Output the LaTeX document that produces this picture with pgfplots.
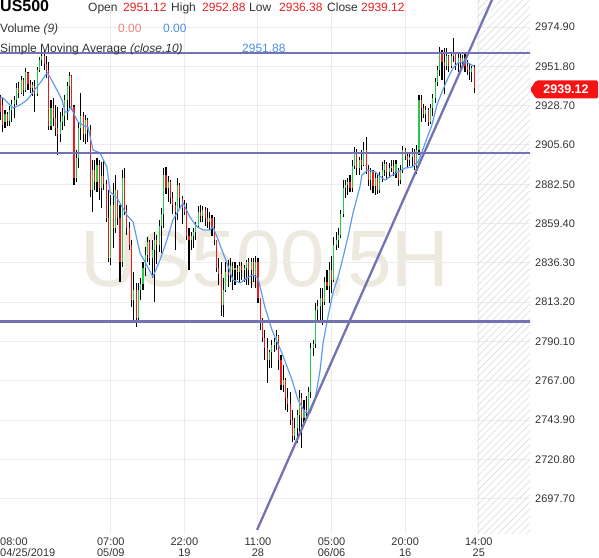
\documentclass[border=0pt]{standalone}
\usepackage{pgfplots}
\pgfplotsset{compat=1.18}
\usepackage{pgfplotstable}
\usepackage{fontspec}
\setmainfont{Liberation Sans}
\usetikzlibrary{patterns.meta}
\definecolor{upg}{RGB}{40,200,75}
\definecolor{dnr}{RGB}{240,25,25}
\definecolor{sma}{RGB}{95,155,240}
\definecolor{lvl}{RGB}{115,115,180}
\definecolor{txt}{RGB}{51,51,51}
\definecolor{wm}{RGB}{238,233,222}
\definecolor{gridc}{RGB}{236,236,236}
\definecolor{valred}{RGB}{235,30,30}
\definecolor{volred}{RGB}{240,130,130}
\definecolor{valblue}{RGB}{74,144,226}
\definecolor{tagred}{RGB}{245,20,20}

\pgfplotstableread{
x o h l c
0 2933.2 2935.0 2920.3 2925.0
1 2929.1 2933.2 2913.2 2917.3
2 2919.1 2926.1 2915.6 2923.8
3 2923.8 2925.0 2916.7 2919.7
4 2919.7 2928.5 2916.7 2926.1
5 2926.1 2932.0 2919.1 2929.7
6 2929.7 2934.4 2921.4 2932.0
7 2932.0 2942.0 2929.1 2939.1
8 2939.1 2942.6 2933.2 2936.1
9 2936.1 2946.1 2935.5 2943.8
10 2943.8 2945.0 2934.4 2937.9
11 2937.9 2950.8 2936.7 2948.5
12 2947.9 2948.5 2937.9 2941.4
13 2941.4 2943.8 2936.1 2939.1
14 2939.1 2942.6 2934.4 2940.8
15 2940.2 2943.8 2925.0 2935.5
16 2935.5 2951.4 2934.4 2949.7
17 2949.7 2957.3 2948.5 2955.5
18 2955.5 2960.2 2952.0 2957.9
19 2957.9 2961.4 2949.7 2953.2
20 2953.2 2957.9 2945.0 2948.5
21 2949.7 2954.4 2914.4 2916.7
22 2916.7 2932.0 2914.4 2927.3
23 2927.3 2933.2 2916.7 2921.4
24 2921.4 2929.1 2910.9 2915.6
25 2915.6 2927.9 2899.7 2912.0
26 2912.0 2925.0 2907.3 2919.1
27 2919.1 2927.3 2914.4 2922.6
28 2922.6 2935.0 2916.7 2932.0
29 2932.0 2942.6 2920.3 2940.2
30 2940.2 2948.5 2927.3 2946.1
31 2946.1 2946.7 2926.1 2928.5
32 2927.9 2929.1 2882.1 2886.2
33 2886.2 2902.6 2883.8 2897.9
34 2897.9 2919.1 2892.0 2915.6
35 2915.6 2936.1 2908.5 2922.6
36 2922.6 2925.0 2907.3 2912.0
37 2912.0 2923.2 2906.2 2920.3
38 2920.3 2921.4 2907.3 2914.4
39 2914.4 2917.3 2875.0 2879.1
40 2879.1 2896.8 2866.2 2890.9
41 2890.9 2896.8 2879.1 2883.8
42 2883.8 2897.9 2877.9 2893.8
43 2893.8 2896.8 2873.2 2880.3
44 2880.3 2895.6 2868.5 2887.3
45 2887.3 2896.8 2879.1 2882.6
46 2882.6 2885.0 2860.3 2862.7
47 2862.7 2879.1 2836.8 2839.2
48 2839.2 2876.2 2835.0 2870.3
49 2870.3 2883.2 2845.0 2856.8
50 2856.8 2887.9 2853.8 2879.1
51 2879.1 2879.1 2858.5 2862.7
52 2862.7 2870.3 2825.0 2836.8
53 2836.8 2890.9 2833.9 2886.2
54 2886.2 2892.0 2864.4 2867.4
55 2867.4 2870.3 2852.7 2856.8
56 2856.8 2860.3 2843.9 2846.8
57 2846.8 2849.7 2810.3 2814.5
58 2814.5 2830.9 2802.7 2820.3
59 2820.3 2824.5 2798.6 2803.9
60 2803.9 2824.5 2802.7 2820.3
61 2820.3 2827.4 2814.5 2823.9
62 2823.9 2836.8 2820.3 2833.3
63 2833.3 2845.6 2828.6 2840.9
64 2840.9 2851.5 2836.8 2848.6
65 2848.6 2849.7 2835.0 2839.2
66 2839.2 2849.7 2827.4 2843.9
67 2843.9 2854.4 2813.3 2849.7
68 2849.7 2852.7 2835.6 2846.8
69 2846.8 2861.5 2842.7 2857.9
70 2857.9 2868.5 2842.1 2865.0
71 2865.0 2892.0 2856.8 2887.9
72 2887.9 2892.6 2876.8 2880.3
73 2880.3 2887.3 2872.1 2883.8
74 2883.8 2885.0 2870.9 2874.4
75 2874.4 2877.9 2865.0 2870.3
76 2870.3 2872.1 2843.9 2866.2
77 2866.2 2886.2 2861.5 2882.1
78 2882.1 2883.2 2868.5 2874.4
79 2874.4 2875.6 2859.1 2868.5
80 2868.5 2873.2 2864.4 2866.2
81 2866.2 2871.5 2849.7 2852.1
82 2852.1 2856.8 2832.1 2849.7
83 2849.7 2854.4 2843.9 2852.1
84 2852.1 2856.8 2845.0 2854.4
85 2854.4 2860.3 2849.7 2857.9
86 2857.9 2869.7 2856.8 2866.2
87 2866.2 2870.3 2860.3 2863.8
88 2863.8 2869.7 2860.3 2867.4
89 2867.4 2869.1 2857.9 2862.7
90 2862.7 2868.5 2856.8 2860.3
91 2860.3 2866.2 2855.6 2862.7
92 2862.7 2864.4 2852.1 2856.8
93 2856.8 2863.2 2846.8 2849.7
94 2849.7 2849.7 2830.9 2833.3
95 2833.3 2839.2 2823.3 2829.7
96 2829.7 2836.8 2805.1 2811.5
97 2811.5 2827.4 2804.5 2820.3
98 2820.3 2836.8 2819.2 2830.9
99 2830.9 2838.0 2822.1 2829.2
100 2829.2 2839.2 2825.0 2834.4
101 2834.4 2836.8 2820.3 2832.1
102 2832.1 2836.8 2823.3 2833.3
103 2833.3 2835.0 2826.2 2830.9
104 2830.9 2836.8 2825.0 2834.4
105 2834.4 2836.8 2826.2 2832.1
106 2832.1 2835.0 2825.0 2833.3
107 2833.3 2838.0 2823.3 2836.8
108 2836.8 2839.2 2823.3 2832.1
109 2832.1 2839.2 2821.5 2836.8
110 2836.8 2839.2 2825.0 2829.2
111 2829.2 2840.3 2821.5 2836.8
112 2836.8 2839.2 2812.7 2815.6
113 2815.6 2815.6 2796.8 2801.5
114 2801.5 2803.9 2789.8 2792.1
115 2792.1 2796.8 2779.2 2786.3
116 2786.3 2792.1 2765.7 2779.2
117 2779.2 2785.1 2774.5 2783.9
118 2783.9 2791.0 2774.5 2788.0
119 2788.0 2792.1 2783.9 2789.8
120 2789.8 2796.8 2785.1 2793.3
121 2793.3 2793.9 2773.3 2779.2
122 2779.2 2782.1 2761.6 2764.5
123 2764.5 2776.3 2760.4 2767.4
124 2767.4 2768.6 2749.8 2756.9
125 2756.9 2762.7 2748.6 2753.3
126 2753.3 2760.4 2741.0 2743.9
127 2743.9 2749.8 2731.0 2734.5
128 2734.5 2745.1 2732.2 2739.2
129 2739.2 2749.8 2730.4 2746.9
130 2746.9 2761.6 2735.1 2756.9
131 2756.9 2759.8 2727.5 2745.1
132 2745.1 2755.7 2741.0 2749.8
133 2749.8 2758.0 2745.1 2748.6
134 2748.6 2763.3 2748.0 2760.4
135 2760.4 2789.2 2756.9 2786.3
136 2786.3 2791.0 2781.5 2788.6
137 2788.6 2812.7 2786.3 2808.6
138 2808.6 2814.5 2801.5 2811.0
139 2811.0 2821.5 2801.5 2815.6
140 2815.6 2821.5 2799.8 2813.3
141 2813.3 2828.0 2811.5 2825.0
142 2825.0 2832.1 2820.3 2822.7
143 2822.7 2836.8 2812.7 2832.1
144 2832.1 2840.3 2818.6 2826.2
145 2826.2 2851.5 2825.0 2846.8
146 2846.8 2854.4 2843.9 2849.7
147 2849.7 2856.8 2845.0 2852.7
148 2852.7 2867.4 2850.9 2865.0
149 2865.0 2885.0 2863.0 2880.3
150 2880.3 2885.0 2874.4 2882.1
151 2882.1 2886.2 2876.2 2883.8
152 2883.8 2887.9 2877.9 2880.3
153 2880.3 2896.8 2878.0 2893.2
154 2893.2 2904.4 2891.5 2901.5
155 2901.5 2903.0 2887.9 2892.0
156 2892.0 2898.5 2887.9 2896.8
157 2896.8 2902.6 2890.9 2893.8
158 2893.8 2907.3 2893.2 2902.6
159 2902.6 2910.3 2888.5 2890.9
160 2890.9 2893.8 2881.5 2885.0
161 2885.0 2892.0 2879.1 2889.7
162 2889.7 2890.9 2877.4 2881.5
163 2881.5 2889.7 2876.2 2886.2
164 2886.2 2887.9 2876.8 2879.1
165 2879.1 2889.7 2877.5 2887.3
166 2887.3 2895.6 2883.8 2890.9
167 2890.9 2896.8 2887.3 2894.4
168 2894.4 2895.6 2885.0 2889.7
169 2889.7 2895.0 2886.2 2892.0
170 2892.0 2896.8 2889.7 2893.2
171 2893.2 2896.8 2887.3 2889.7
172 2889.7 2896.8 2886.2 2894.4
173 2890.9 2892.0 2881.5 2885.0
174 2885.0 2893.8 2882.6 2890.9
175 2890.9 2905.0 2889.0 2902.6
176 2902.6 2903.8 2896.8 2899.1
177 2899.1 2901.5 2892.0 2896.8
178 2896.8 2900.3 2893.2 2898.5
179 2898.5 2903.8 2893.2 2901.5
180 2901.5 2903.0 2890.9 2893.2
181 2893.2 2905.6 2888.5 2902.6
182 2902.6 2935.0 2899.7 2932.0
183 2932.0 2935.0 2919.1 2927.3
184 2927.3 2929.7 2921.4 2923.8
185 2923.8 2928.5 2919.1 2926.1
186 2926.1 2927.3 2916.7 2919.1
187 2919.1 2929.7 2917.9 2927.3
188 2927.3 2935.5 2922.6 2933.2
189 2933.2 2945.0 2930.3 2942.6
190 2942.6 2952.0 2940.2 2949.7
191 2949.7 2963.2 2946.1 2960.2
192 2960.2 2961.4 2943.8 2954.4
193 2954.4 2962.6 2935.5 2952.0
194 2952.0 2962.6 2949.7 2957.9
195 2957.9 2958.5 2948.5 2952.0
196 2952.0 2960.2 2950.8 2957.9
197 2957.9 2968.5 2954.4 2960.2
198 2960.2 2960.2 2949.7 2953.8
199 2953.8 2959.1 2948.5 2956.7
200 2956.7 2960.2 2950.8 2954.4
201 2954.4 2958.5 2952.0 2956.7
202 2956.7 2959.6 2948.5 2952.0
203 2952.0 2955.5 2946.7 2949.7
204 2949.7 2953.2 2943.8 2948.5
205 2948.5 2952.0 2942.6 2950.8
206 2951.12 2952.88 2936.38 2939.12
}\bars

\pgfplotstableread{
x y
0 2933.8
1.1 2933.2
5.5 2927.3
8.5 2929.1
11.6 2932.0
14.2 2936.7
17.2 2942.0
20.3 2947.9
21.6 2945.5
24.6 2937.9
26.8 2932.0
28.1 2925.0
29.4 2925.0
30.7 2927.9
31.6 2925.0
33.7 2919.1
35.9 2917.3
38.1 2916.1
40.3 2902.6
43.3 2900.9
46.3 2892.6
47.7 2877.9
50.7 2874.4
55.0 2864.4
57.7 2860.3
60.7 2842.1
62.9 2836.8
66.3 2828.0
69.4 2838.0
72.4 2849.7
75.0 2861.5
79.4 2871.5
82.4 2863.2
85.5 2857.4
88.1 2855.6
91.1 2855.6
92.4 2857.4
94.2 2851.5
96.3 2843.9
98.5 2836.2
101.1 2826.2
104.2 2824.5
107.2 2827.4
109.8 2829.2
112.0 2827.4
115.0 2810.3
118.1 2796.8
122.4 2783.3
126.8 2767.4
129.4 2755.7
132.4 2748.6
134.6 2748.0
136.8 2755.7
139.0 2773.3
140.3 2789.2
142.4 2804.5
144.6 2818.6
146.8 2828.0
149.0 2839.7
151.1 2851.5
153.3 2865.6
156.3 2880.9
157.2 2887.9
159.8 2890.9
162.9 2889.7
165.9 2886.2
167.2 2885.0
170.3 2887.9
172.9 2889.7
175.9 2892.0
179.0 2892.6
181.6 2895.6
183.3 2901.5
185.5 2909.7
187.6 2917.3
189.8 2929.1
192.0 2936.7
194.6 2945.0
196.8 2950.8
199.0 2953.8
201.1 2954.4
203.3 2953.8
205.9 2951.9
}\smatab

\newcommand\fs[1]{\fontsize{#1bp}{#1bp}\selectfont}

\begin{document}
\begin{tikzpicture}
\useasboundingbox (0,0) rectangle (599bp,558bp);
% watermark
\node[anchor=base, inner sep=0pt, text=wm, font=\fs{80}] at (265bp,271bp) {US500,5H};
\begin{axis}[
  at={(0,24bp)}, anchor=south west,
  scale only axis, width=530bp, height=534bp,
  xmin=-0.17, xmax=230.26, ymin=2676.9, ymax=2990.8,
  axis line style={draw=none},
  major tick length=0pt, tick style={draw=none},
  xtick={48,80,112,144,176,208},
  xticklabels={{07:00\\05/09},{22:00\\19},{11:00\\28},{05:00\\06/06},{20:00\\16},{14:00\\25}},
  xticklabel style={align=center, font=\fontsize{11bp}{10.5bp}\selectfont, text=txt, inner sep=0pt, anchor=north, yshift=-4bp},
  ytick={2697.7,2720.8,2743.9,2767.0,2790.1,2813.2,2836.3,2859.4,2882.5,2905.6,2928.7,2951.8,2974.9},
  yticklabels={2697.70,2720.80,2743.90,2767.00,2790.10,2813.20,2836.30,2859.40,2882.50,2905.60,2928.70,2951.80,2974.90},
  yticklabel pos=right,
  yticklabel style={anchor=west, inner sep=0pt, xshift=5bp, font=\fs{11}, text=txt},
  grid=major, major grid style={draw=gridc, line width=1bp},
]
\fill[pattern={Lines[angle=45,distance=5bp,line width=0.7bp]}, pattern color=black!13] (axis cs:207.2,2676.9) rectangle (axis cs:230.26,2990.8);
% wicks
\addplot[draw=none, mark=none, forget plot,
  error bars/.cd, y dir=minus, y explicit, error mark=none,
  error bar style={draw=black, line width=1.1bp, solid}]
  table[x=x, y=h, y error minus expr={\thisrow{h}-\thisrow{l}}] {\bars};
% up bodies
\addplot[draw=none, mark=none, forget plot,
  restrict expr to domain={\thisrow{c}-\thisrow{o}}{0.001:1000},
  error bars/.cd, y dir=minus, y explicit, error mark=none,
  error bar style={draw=upg, line width=1.1bp, solid}]
  table[x=x, y=c, y error minus expr={\thisrow{c}-\thisrow{o}}] {\bars};
% down bodies
\addplot[draw=none, mark=none, forget plot,
  restrict expr to domain={\thisrow{o}-\thisrow{c}}{0.001:1000},
  error bars/.cd, y dir=minus, y explicit, error mark=none,
  error bar style={draw=dnr, line width=1.1bp, solid}]
  table[x=x, y=o, y error minus expr={\thisrow{o}-\thisrow{c}}] {\bars};
% SMA
\addplot[sma, line width=1.2bp, mark=none] table[x=x, y=y] {\smatab};
% levels
\addplot[lvl, line width=2.3bp, mark=none] coordinates {(-1,2959.8) (232,2959.8)};
\addplot[lvl, line width=2.3bp, mark=none] coordinates {(-1,2901.0) (232,2901.0)};
\addplot[lvl, line width=2.3bp, mark=none] coordinates {(-1,2801.8) (232,2801.8)};
% trend line
\addplot[lvl, line width=2.3bp, mark=none] coordinates {(111.6,2679.3) (213.7,2990.8)};
\end{axis}
% first time label
\node[anchor=north west, align=left, inner sep=0pt, font=\fontsize{11bp}{10.5bp}\selectfont, text=txt] at (0bp,20bp) {08:00\\04/25/2019};
% header
\node[anchor=base west, inner sep=0pt, font=\bfseries\fs{16}] at (0bp,546bp) {US500};
\begin{scope}[every node/.style={anchor=base west, inner sep=0pt, font=\fs{12}}]
\node[text=txt] at (88bp,546bp) {Open};
\node[text=valred] at (123bp,546bp) {2951.12};
\node[text=txt] at (171bp,546bp) {High};
\node[text=valred] at (202bp,546bp) {2952.88};
\node[text=txt] at (249bp,546bp) {Low};
\node[text=valred] at (279bp,546bp) {2936.38};
\node[text=txt] at (327bp,546bp) {Close};
\node[text=valred] at (361bp,546bp) {2939.12};
\node[text=txt] at (0bp,525bp) {Volume \textit{(9)}};
\node[text=volred] at (118bp,525bp) {0.00};
\node[text=valblue] at (163bp,525bp) {0.00};
\node[text=txt] at (0bp,505bp) {Simple Moving Average \textit{(close,10)}};
\node[text=valblue] at (242bp,505bp) {2951.88};
\end{scope}
% price tag
\fill[tagred, rounded corners=1.5bp] (530bp,468.5bp) -- (536bp,477.5bp) -- (598bp,477.5bp) -- (598bp,459.5bp) -- (536bp,459.5bp) -- cycle;
\node[text=white, inner sep=0pt, font=\bfseries\fs{12.5}] at (566bp,468.5bp) {2939.12};
\end{tikzpicture}
\end{document}
